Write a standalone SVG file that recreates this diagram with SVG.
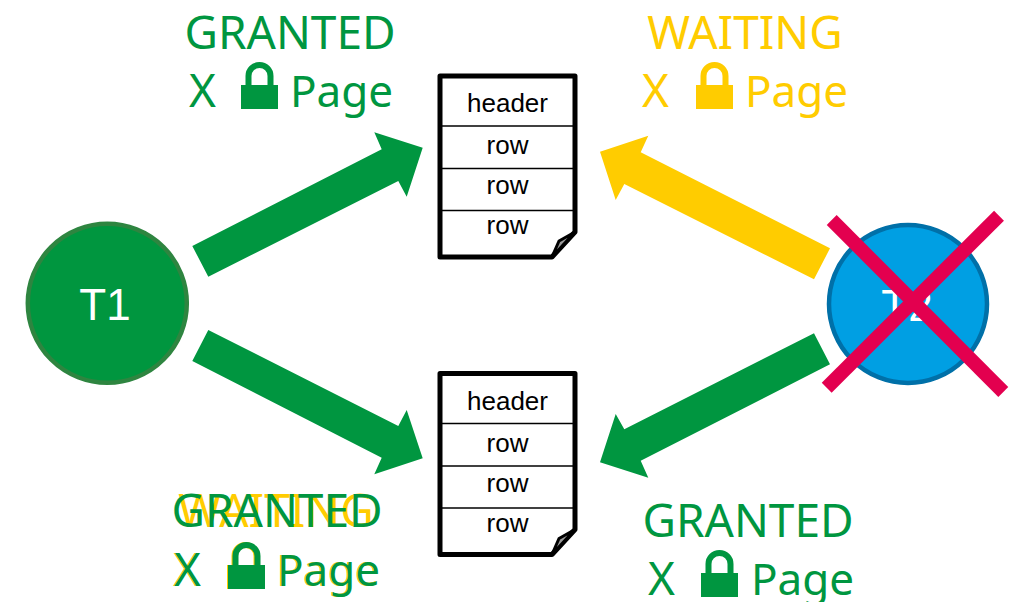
<svg xmlns="http://www.w3.org/2000/svg" xmlns:xlink="http://www.w3.org/1999/xlink" width="1018" height="602" viewBox="0 0 1018 602">
<style>
.lbl{font-family:"Noto Sans","Open Sans",sans-serif;font-size:46px}
.pg{font-size:44px}
.g{fill:#009640;color:#009640}
.y{fill:#ffcc00;color:#ffcc00}
.doc{fill:#fff;stroke:#000;stroke-width:5;stroke-linejoin:round}
.div{stroke:#000;stroke-width:1.5}
.fold{fill:#9a9a9a;stroke:#000;stroke-width:3;stroke-linejoin:round}
.dt{font-family:"Liberation Sans",Arial,sans-serif;font-size:26px;fill:#000;text-anchor:middle}
.nt{font-family:"Liberation Sans",Arial,sans-serif;font-size:44px;fill:#fff;text-anchor:middle}
.cross{stroke:#e3004f;stroke-width:14}
</style>
<defs>
<g id="lock">
<rect x="0" y="0" width="37" height="24" fill="currentColor"/>
<path d="M7.5,1 V-9 A11,11 0 0 1 29.5,-9 V1" fill="none" stroke="currentColor" stroke-width="6"/>
</g>
</defs>
<rect width="1018" height="602" fill="#fff"/>

<g id="connectors">
<polygon fill="#009640" points="192.3,246 381.7,149.3 374.3,132.3 422.7,147.7 406.7,196.7 398.3,181 208.3,276.7"/>
<polygon fill="#009640" points="208.3,330 398.3,426 406.7,410 422.7,458.3 374.3,474.3 381.7,457.7 192.3,361"/>
<polygon fill="#ffcc00" points="830,248.3 640.7,152.3 648.3,135.7 600,151.7 615.7,200 624.3,184 814,279.3"/>
<polygon fill="#009640" points="814,333.3 624.3,429.3 615.7,414 600,462.3 648.3,477.7 640.7,460.7 830,364.3"/>
</g>

<g id="T1">
<circle cx="107.3" cy="303.3" r="79.5" fill="#00963f" stroke="#2e8540" stroke-width="4.5"/>
<text class="nt" x="105" y="320">T1</text>
</g>

<g id="T2">
<circle cx="908" cy="304" r="79" fill="#009fe3" stroke="#0070a8" stroke-width="4.5"/>
<text class="nt" x="907" y="321">T2</text>
<line class="cross" x1="831.7" y1="220" x2="1003.3" y2="392"/>
<line class="cross" x1="999" y1="215.7" x2="826.7" y2="387.7"/>
</g>

<g id="page1">
<path class="doc" d="M440,76 H575 V232 L552,257 H440 Z"/>
<line class="div" x1="440" y1="126" x2="575" y2="126"/>
<line class="div" x1="440" y1="168.5" x2="575" y2="168.5"/>
<line class="div" x1="440" y1="210.5" x2="575" y2="210.5"/>
<path class="fold" d="M552,257 L559,241 L575,232 Z"/>
<text class="dt" x="507.5" y="112">header</text>
<text class="dt" x="507.5" y="154">row</text>
<text class="dt" x="507.5" y="194">row</text>
<text class="dt" x="507.5" y="234">row</text>
</g>

<g id="page2" transform="translate(0,297.5)">
<path class="doc" d="M440,76 H575 V232 L552,257 H440 Z"/>
<line class="div" x1="440" y1="126" x2="575" y2="126"/>
<line class="div" x1="440" y1="168.5" x2="575" y2="168.5"/>
<line class="div" x1="440" y1="210.5" x2="575" y2="210.5"/>
<path class="fold" d="M552,257 L559,241 L575,232 Z"/>
<text class="dt" x="507.5" y="112">header</text>
<text class="dt" x="507.5" y="154">row</text>
<text class="dt" x="507.5" y="194">row</text>
<text class="dt" x="507.5" y="234">row</text>
</g>

<g id="label-t1-page1" class="g">
<text class="lbl" x="290" y="49" text-anchor="middle">GRANTED</text>
<text class="lbl" x="189" y="107">X</text>
<use xlink:href="#lock" x="241" y="85"/>
<text class="lbl pg" x="290" y="107">Page</text>
</g>

<g id="label-t2-page1" class="y">
<text class="lbl" x="745" y="49" text-anchor="middle">WAITING</text>
<text class="lbl" x="642" y="107">X</text>
<use xlink:href="#lock" x="696" y="85"/>
<text class="lbl pg" x="745" y="107">Page</text>
</g>

<g id="label-t1-page2-waiting" class="y">
<text class="lbl" x="276" y="527" text-anchor="middle">WAITING</text>
<text class="lbl" x="173" y="586">X</text>
<use xlink:href="#lock" x="227" y="565"/>
<text class="lbl pg" x="276" y="586">Page</text>
</g>
<g id="label-t1-page2-granted" class="g">
<text class="lbl" x="277" y="527" text-anchor="middle">GRANTED</text>
<text class="lbl" x="174" y="586">X</text>
<use xlink:href="#lock" x="228" y="565"/>
<text class="lbl pg" x="277" y="586">Page</text>
</g>

<g id="label-t2-page2" class="g">
<text class="lbl" x="748" y="537" text-anchor="middle">GRANTED</text>
<text class="lbl" x="648" y="595">X</text>
<use xlink:href="#lock" x="701" y="573"/>
<text class="lbl pg" x="751" y="595">Page</text>
</g>
</svg>
